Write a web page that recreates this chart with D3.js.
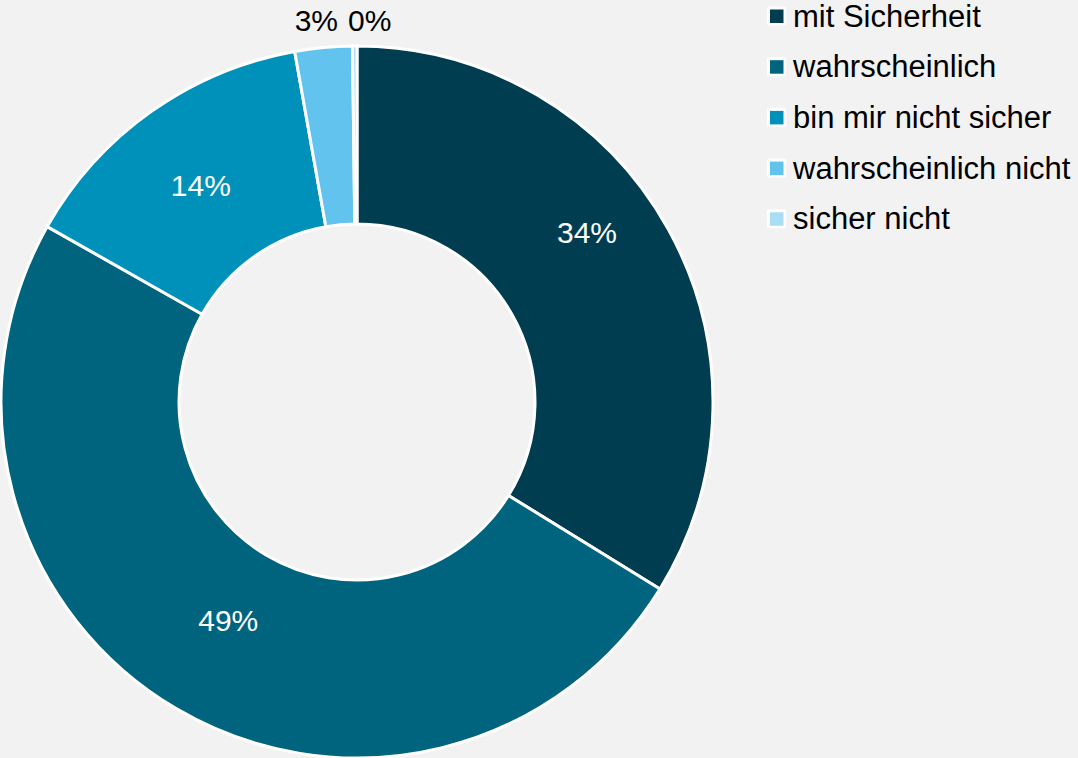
<!DOCTYPE html>
<html><head><meta charset="utf-8">
<script src="https://cdn.jsdelivr.net/npm/d3@7"></script>
<style>html,body{margin:0;padding:0;background:#f2f2f2;}svg{display:block;font-family:"Liberation Sans",Arial,sans-serif;}</style>
</head><body>
<script>
const categories = ["mit Sicherheit","wahrscheinlich","bin mir nicht sicher","wahrscheinlich nicht","sicher nicht"];
const values = [33.8, 49.4, 14.0, 2.6, 0.2];
const colors = ["#003d50","#00647f","#0091bb","#62c4ee","#a9dcf5"];

const W=1078,H=758, cx=357, cy=402, rOut=356, rIn=178, fs=30;
const svg=d3.select("body").append("svg").attr("width",W).attr("height",H);
svg.append("rect").attr("width",W).attr("height",H).attr("fill","#f2f2f2");
const g=svg.append("g").attr("transform",`translate(${cx},${cy})`);
const pie=d3.pie().sort(null).value(d=>d)(values);
const arc=d3.arc().innerRadius(rIn).outerRadius(rOut);
g.selectAll("path").data(pie).join("path").attr("d",arc).attr("fill",(d,i)=>colors[i])
 .attr("stroke","#fff").attr("stroke-width",3);
const total=d3.sum(values);
const fmt=v=>Math.round(v/total*100)+"%";
const labelFrac=[0.44,0.5,0.49], labelR=[286,253,267];
pie.forEach((d,i)=>{
  const span=d.endAngle-d.startAngle;
  const inside = span>0.4;
  let a, r;
  if(inside){ a = d.startAngle + span*labelFrac[i]; r = labelR[i]; }
  else { a=(d.startAngle+d.endAngle)/2; r=385; }
  let x=r*Math.sin(a), y=-r*Math.cos(a);
  const t=g.append("text").text(fmt(values[i])).attr("font-size",fs)
    .attr("fill",inside?"#fff":"#000").attr("dy","0.36em");
  if(inside){ t.attr("x",x).attr("y",y).attr("text-anchor","middle"); }
  else if(i===3){ t.attr("x",-cx+338).attr("y",-cy+20).attr("text-anchor","end"); }
  else { t.attr("x",-cx+348).attr("y",-cy+20).attr("text-anchor","start"); }
});
const lg=svg.append("g").attr("transform","translate(767,16)");
categories.forEach((c,i)=>{
  const row=lg.append("g").attr("transform",`translate(0,${i*50.7})`);
  row.append("rect").attr("x",0).attr("y",-9.5).attr("width",19).attr("height",19).attr("rx",2).attr("fill","#fff");
  row.append("rect").attr("x",3).attr("y",-6.5).attr("width",13.5).attr("height",13.5).attr("fill",colors[i]);
  row.append("text").attr("x",26).attr("y",0).attr("dy","0.34em").attr("font-size",31).attr("fill","#000").text(c);
});
</script>
</body></html>
